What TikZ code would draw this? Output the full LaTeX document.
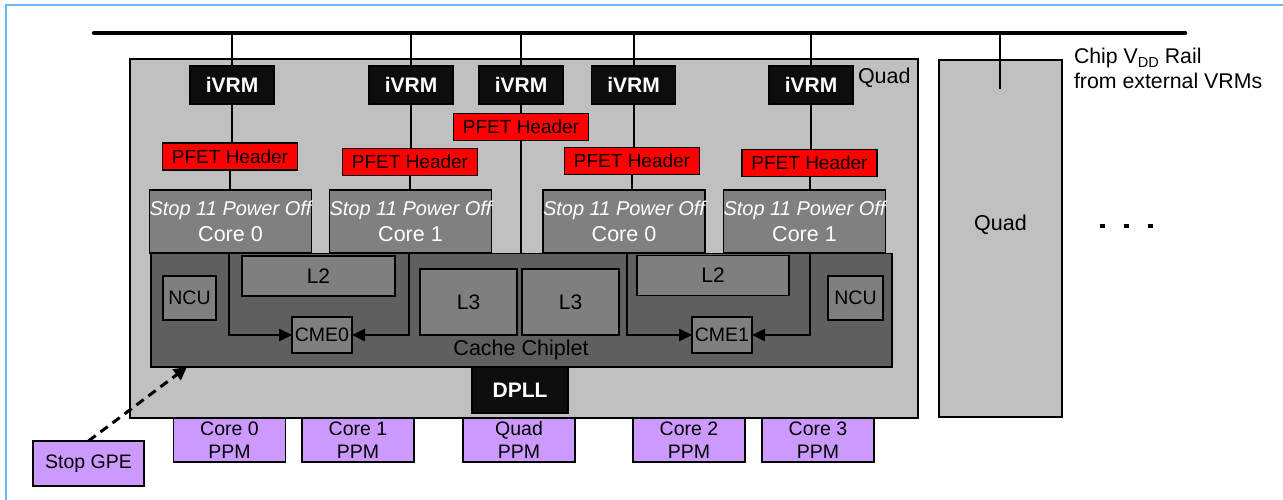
\documentclass[tikz,border=0pt]{standalone}
\usepackage{fontspec}
\setmainfont{Liberation Sans}
\usetikzlibrary{arrows.meta}
\definecolor{quadgray}{HTML}{C0C0C0}
\definecolor{coregray}{HTML}{808080}
\definecolor{unitgray}{HTML}{7F7F7F}
\definecolor{chipgray}{HTML}{5F5F5F}
\definecolor{blkbox}{HTML}{0D0D0D}
\definecolor{ppmpurple}{HTML}{CC99FF}
\definecolor{pfetred}{HTML}{FF0000}
\definecolor{frameblue}{HTML}{66BBF5}
\newcommand{\myfont}[2]{\fontsize{#1}{#2}\selectfont}
\begin{document}
\begin{tikzpicture}[x=1pt,y=-1pt,
  every node/.style={inner sep=0pt, outer sep=0pt},
  sz/.style 2 args={minimum width=#1, minimum height=#2},
  quadbox/.style={draw=black, fill=quadgray, line width=1.6pt},
  ivrm/.style={draw=black, fill=blkbox, line width=1.6pt, text=white, font=\bfseries\myfont{21}{24}, sz={84}{38}},
  pfet/.style={draw=black, fill=pfetred, line width=1.8pt, text=black, font=\myfont{19}{22}, sz={135}{27}},
  corebox/.style={draw=black, fill=coregray, line width=1.6pt, text=white, align=center, font=\myfont{21.5}{26}, sz={161}{63}},
  chipbox/.style={draw=black, fill=chipgray, line width=1.6pt},
  unit/.style={draw=black, fill=unitgray, line width=1.6pt, text=black, font=\myfont{21}{24}},
  smallunit/.style={unit, font=\myfont{19.5}{22}},
  dpllbox/.style={draw=black, fill=blkbox, line width=1.6pt, text=white, font=\bfseries\myfont{21}{24}, sz={96}{46}},
  ppm/.style={draw=black, fill=ppmpurple, line width=1.8pt, text=black, align=center, font=\myfont{19.5}{22.5}, sz={112}{44}},
  wire/.style={draw=black, line width=2pt},
  railline/.style={draw=black, line width=4.5pt, line cap=round},
  arr/.style={draw=black, line width=2.5pt, -{Triangle[length=13pt,width=12pt]}},
  dasharr/.style={draw=black, line width=3pt, dash pattern=on 9pt off 6pt, -{Triangle[length=13pt,width=13pt]}},
  lbl/.style={text=black, font=\myfont{21.5}{24}}
]
\useasboundingbox (0,0) rectangle (1283,500);

% outer frame (partial)
\coordinate (frA) at (6,500);
\coordinate (frB) at (6,5);
\coordinate (frC) at (1283,5);
\draw[frameblue, line width=2.2pt] (frA) -- (frB) -- (frC);

% quads
\node[quadbox, sz={788}{359}] (quad) at (524,238.5) {};
\node[lbl, anchor=west] (quadlbl) at (858,78) {Quad};
\node[quadbox, sz={123}{357}, label={[lbl, yshift=14pt]center:Quad}] (quad2) at (1000.5,238.5) {};

% rail
\coordinate (rail) at (94,33);
\coordinate (railend) at (1185,33);
\draw[railline] (rail) -- (railend);
\node[anchor=north west, align=left, font=\myfont{21.3}{25}] (vdd) at (1074,48.5)
  {Chip V\raisebox{-0.35ex}{\myfont{14.5}{14}DD} Rail\\from external VRMs};
\coordinate (q2tap) at (1000,89);
\draw[wire] (q2tap |- rail) -- (q2tap);

% dots
\fill (1100,223.5) rectangle (1104.5,228);
\fill (1124,223.5) rectangle (1128.5,228);
\fill (1148,223.5) rectangle (1152.5,228);

% iVRMs
\node[ivrm] (v1) at (232,85) {iVRM};
\node[ivrm] (v2) at (411,85) {iVRM};
\node[ivrm] (v3) at (521,85) {iVRM};
\node[ivrm] (v4) at (633.5,85) {iVRM};
\node[ivrm] (v5) at (811,85) {iVRM};
\foreach \v in {v1,v2,v3,v4,v5}{\draw[wire] (\v.north |- rail) -- (\v.north);}

% PFET headers
\node[pfet] (p1) at (230,156.5) {PFET Header};
\node[pfet] (p2) at (410,162) {PFET Header};
\node[pfet] (p3) at (521,127) {PFET Header};
\node[pfet] (p4) at (632,161) {PFET Header};
\node[pfet] (p5) at (809.5,163) {PFET Header};
\draw[wire] (v1.south) -- (v1.south |- p1.north);
\draw[wire] (v2.south) -- (v2.south |- p2.north);
\draw[wire] (v3.south) -- (v3.south |- p3.north);
\draw[wire] (v4.south) -- (v4.south |- p4.north);
\draw[wire] (v5.south) -- (v5.south |- p5.north);

% cores
\node[corebox] (c1) at (230.5,221.5) {{\itshape\fontsize{20}{26}\selectfont Stop 11 Power Off}\\Core 0};
\node[corebox] (c2) at (410.5,221.5) {{\itshape\fontsize{20}{26}\selectfont Stop 11 Power Off}\\Core 1};
\node[corebox] (c3) at (624,221.5) {{\itshape\fontsize{20}{26}\selectfont Stop 11 Power Off}\\Core 0};
\node[corebox] (c4) at (804.5,221.5) {{\itshape\fontsize{20}{26}\selectfont Stop 11 Power Off}\\Core 1};

% cache chiplet
\node[chipbox, sz={741}{113.5}] (chip) at (521.5,310.25) {};
\node[lbl] (chiplbl) at (521,350) {Cache Chiplet};

\draw[wire] (p1.south) -- (p1.south |- c1.north);
\draw[wire] (p2.south) -- (p2.south |- c2.north);
\draw[wire] (p3.south) -- (p3.south |- chip.north);
\draw[wire] (p4.south) -- (p4.south |- c3.north);
\draw[wire] (p5.south) -- (p5.south |- c4.north);

% units
\node[unit, sz={153}{40}] (l2a) at (318.5,276) {L2};
\node[smallunit, sz={60}{36}] (cme0) at (322,335) {CME0};
\node[smallunit, sz={53}{44}] (ncua) at (189.5,298) {NCU};
\node[unit, sz={97}{66}] (l3a) at (468.5,302) {L3};
\node[unit, sz={97}{66}] (l3b) at (570.5,302) {L3};
\node[unit, sz={152}{40}] (l2b) at (713,275.5) {L2};
\node[smallunit, sz={60}{36}] (cme1) at (722,335) {CME1};
\node[smallunit, sz={55}{44}] (ncub) at (855.5,298) {NCU};

% U-shaped arrows to CMEs
\coordinate (ua1) at (229,254);
\coordinate (ua2) at (409,254);
\coordinate (ub1) at (627,254);
\coordinate (ub2) at (810,254);
\draw[arr] (ua1) |- (cme0.west);
\draw[arr] (ua2) |- (cme0.east);
\draw[arr] (ub1) |- (cme1.west);
\draw[arr] (ub2) |- (cme1.east);

% DPLL
\node[dpllbox] (dpll) at (520,390) {DPLL};

% PPMs
\node[ppm] (ppm0) at (229.5,440) {Core 0\\PPM};
\node[ppm] (ppm1) at (358,440) {Core 1\\PPM};
\node[ppm] (ppmq) at (519,440) {Quad\\PPM};
\node[ppm] (ppm2) at (689,440) {Core 2\\PPM};
\node[ppm] (ppm3) at (818,440) {Core 3\\PPM};

% Stop GPE
\node[ppm, sz={111}{45}] (gpe) at (88.5,463.5) {Stop GPE};
\coordinate (gpetip) at (187,367);
\draw[dasharr] (gpe.north) -- (gpetip);
\end{tikzpicture}
\end{document}
